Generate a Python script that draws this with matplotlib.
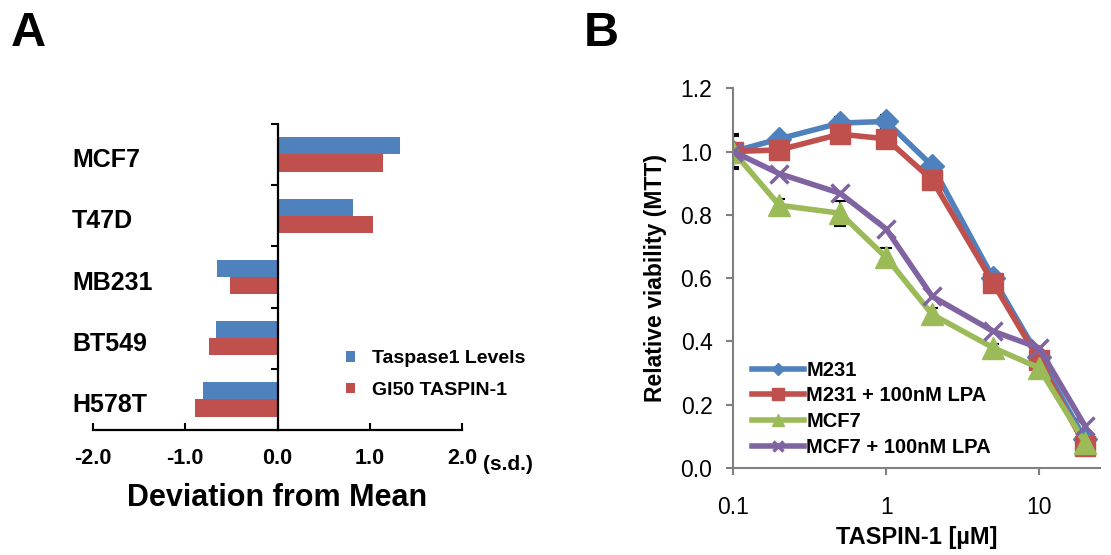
import matplotlib
matplotlib.use("Agg")
import matplotlib.pyplot as plt
import numpy as np

plt.rcParams['font.family'] = ['Liberation Sans', 'DejaVu Sans']

# Panel A data
cell_lines = ["MCF7", "T47D", "MB231", "BT549", "H578T"]
taspase1_levels = [1.33, 0.82, -0.66, -0.67, -0.81]
gi50_taspin = [1.14, 1.03, -0.52, -0.74, -0.89]
a_xticks = [-2.0, -1.0, 0.0, 1.0, 2.0]

# Panel B data
conc = [0.1, 0.2, 0.5, 1, 2, 5, 10, 20]
m231 = [1.00, 1.04, 1.09, 1.095, 0.955, 0.60, 0.35, 0.09]
m231_lpa = [1.00, 1.005, 1.055, 1.04, 0.91, 0.585, 0.34, 0.07]
mcf7 = [1.00, 0.83, 0.805, 0.665, 0.485, 0.38, 0.316, 0.08]
mcf7_lpa = [1.00, 0.93, 0.868, 0.755, 0.542, 0.432, 0.379, 0.132]
m231_err = [0.055, 0.01, 0.02, 0.02, 0.01, 0.01, 0.01, 0.02]
mcf7_err = [0.05, 0.02, 0.04, 0.03, 0.02, 0.01, 0.01, 0.02]

blue = "#4F81BD"
red = "#C0504D"
green = "#9BBB59"
purple = "#8064A2"

fig = plt.figure(figsize=(11.11, 5.55), dpi=100)

# ---------- Panel A ----------
axA = fig.add_axes([0.0837, 0.225, 0.3322, 0.552])
n = len(cell_lines)
pos = np.arange(n)[::-1]  # MCF7 at top
h = 0.28
axA.barh(pos + h / 2, taspase1_levels, height=h, color=blue, label="Taspase1 Levels")
axA.barh(pos - h / 2, gi50_taspin, height=h, color=red, label="GI50 TASPIN-1")
axA.set_xlim(-2.0, 2.0)
axA.set_ylim(-0.5, n - 0.5)
axA.spines['left'].set_position(('data', 0))
axA.spines['right'].set_visible(False)
axA.spines['top'].set_visible(False)
axA.spines['left'].set_linewidth(1.6)
axA.spines['bottom'].set_linewidth(1.6)
axA.set_yticks(np.arange(n + 1) - 0.5)
axA.set_yticklabels([])
axA.tick_params(axis='y', direction='out', length=5, width=1.5)
axA.set_xticks(a_xticks)
axA.set_xticklabels([f"{v:.1f}" for v in a_xticks], fontsize=15.5, fontweight='bold')
axA.tick_params(axis='x', direction='in', length=5, width=1.5, pad=13)
for p, name in zip(pos, cell_lines):
    axA.annotate(name, xy=(0, p), xycoords=('axes fraction', 'data'),
                 xytext=(-15, -4), textcoords='offset points',
                 ha='left', va='center', fontsize=18, fontweight='bold')
axA.annotate("(s.d.)", xy=(1.057, 0), xycoords='axes fraction',
             xytext=(0, -25), textcoords='offset points', fontsize=15,
             fontweight='bold', ha='left', va='center')
axA.set_xlabel("Deviation from Mean", fontsize=22, fontweight='bold', labelpad=10)
legA = axA.legend(loc='lower right', bbox_to_anchor=(1.22, 0.045), frameon=False,
                  prop={'size': 14, 'weight': 'bold'}, handlelength=0.45,
                  handleheight=0.45, handletextpad=0.9, labelspacing=0.75)

# ---------- Panel B ----------
axB = fig.add_axes([0.66, 0.157, 0.33, 0.684])
series = [
    (m231, blue, 'D', 12, "M231", m231_err),
    (m231_lpa, red, 's', 15, "M231 + 100nM LPA", None),
    (mcf7, green, '^', 16, "MCF7", mcf7_err),
    (mcf7_lpa, purple, 'x', 13, "MCF7 + 100nM LPA", None),
]
for vals, col, mk, ms, lab, err in series:
    if err is not None:
        axB.errorbar(conc, vals, yerr=err, fmt='none', ecolor='black',
                     elinewidth=1.5, capsize=4, capthick=1.5, zorder=1)
    axB.plot(conc, vals, color=col, lw=4, marker=mk, markersize=ms,
             markeredgewidth=2.5 if mk == 'x' else 1, markeredgecolor=col,
             label=lab, zorder=2)
axB.set_xscale('log')
axB.set_xlim(0.1, 25)
axB.set_ylim(0, 1.2)
yt = np.arange(0, 1.21, 0.2)
axB.set_yticks(yt)
axB.set_yticklabels([f"{v:.1f}" for v in yt], fontsize=16.5)
axB.set_xticks([0.1, 1, 10])
axB.set_xticklabels(["0.1", "1", "10"], fontsize=16.5)
axB.xaxis.set_minor_locator(matplotlib.ticker.NullLocator())
axB.spines['right'].set_visible(False)
axB.spines['top'].set_visible(False)
for s in ('left', 'bottom'):
    axB.spines[s].set_color('#808080')
    axB.spines[s].set_linewidth(1.5)
axB.tick_params(axis='both', direction='out', length=5, width=1.5, color='#808080')
axB.tick_params(axis='x', pad=15)
axB.tick_params(axis='y', pad=10)
axB.set_xlabel("TASPIN-1 [µM]", fontsize=17, fontweight='bold', labelpad=5)
axB.set_ylabel("Relative viability (MTT)", fontsize=16.5, fontweight='bold', labelpad=10)
axB.legend(loc='lower left', bbox_to_anchor=(0.01, -0.01), frameon=False,
           prop={'size': 14.5, 'weight': 'bold'}, handlelength=2.6,
           handletextpad=0.1, labelspacing=0.33, markerscale=0.55, borderpad=0.25)

fig.text(0.01, 0.94, "A", fontsize=35, fontweight='bold', ha='left', va='center')
fig.text(0.525, 0.94, "B", fontsize=35, fontweight='bold', ha='left', va='center')

fig.savefig("out.png", dpi=100)
